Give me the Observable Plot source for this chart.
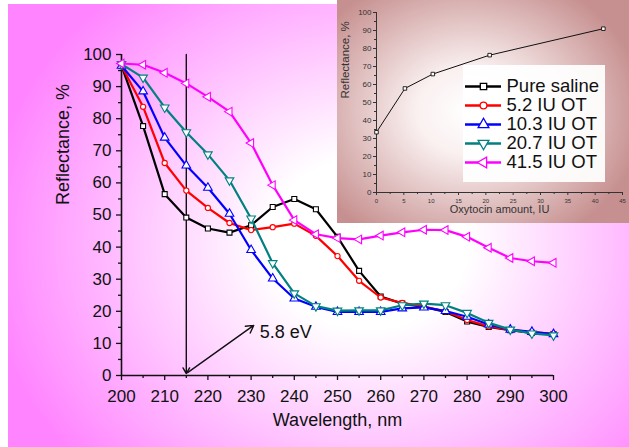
<!DOCTYPE html>
<html>
<head>
<meta charset="utf-8">
<script src="https://cdn.jsdelivr.net/npm/d3@7"></script>
<script src="https://cdn.jsdelivr.net/npm/@observablehq/plot@0.6"></script>
<style>
html,body{margin:0;padding:0;background:#fff;}
#wrap{position:relative;width:629px;height:447px;overflow:hidden;font-family:"Liberation Sans",Arial,sans-serif;}
#bg{position:absolute;left:8px;top:4px;right:0;bottom:0;
  background:radial-gradient(ellipse 62% 75% at 58% 54%, #ffffff 0%, #ffffff 26%, #ff84ff 100%);}
#main{position:absolute;left:0;top:0;}
#inset{position:absolute;left:337px;top:0;width:292px;height:223px;
  background:radial-gradient(ellipse 60% 65% at 45% 50%, #ffffff 0%, #faf0f0 30%, #c79090 100%);}
#legend{position:absolute;left:463px;top:65px;width:142px;height:117px;background:rgba(255,255,255,0.93);}
svg{display:block;}
</style>
</head>
<body>
<div id="wrap">
  <div id="bg"></div>
  <div id="main"></div>
  <div id="inset"></div>
  <div id="legend"></div>
</div>
<script>
// ---------- data ----------
const wavelengths = [200,205,210,215,220,225,230,235,240,245,250,255,260,265,270,275,280,285,290,295,300];
const pureSaline = [96.5,77.7,56.5,49.2,45.8,44.5,46.8,52.5,55.0,51.8,43.2,32.6,24.6,22.4,21.4,19.8,16.8,15.1,14.1,13.3,12.9];
const ot52  = [96.5,83.7,66.2,57.6,52.2,47.5,45.3,46.2,47.3,43.5,37.2,29.5,24.3,22.6,21.5,20.0,17.3,15.3,14.2,13.5,13.0];
const ot103 = [96.5,88.5,74.1,65.4,58.5,50.4,39.1,30.2,24.0,21.4,19.8,19.8,19.8,20.9,21.2,20.1,18.3,15.9,14.3,13.6,12.9];
const ot207 = [97.0,92.8,83.5,75.8,68.9,60.8,48.9,35.0,25.6,21.6,20.2,20.3,20.3,21.9,22.4,21.9,19.5,16.4,14.3,13.1,12.5];
const ot415 = [97.2,96.8,94.3,91.0,86.8,82.2,72.4,59.3,48.4,44.0,42.8,42.4,43.6,44.6,45.4,45.3,43.2,39.8,36.6,35.6,35.1];

const seriesNames  = ["Pure saline","5.2 IU OT","10.3 IU OT","20.7 IU OT","41.5 IU OT"];
const seriesValues = [pureSaline, ot52, ot103, ot207, ot415];
const seriesColors = ["#000000","#ff0000","#0000ff","#008080","#ff00ff"];

const xTicks = [200,210,220,230,240,250,260,270,280,290,300];
const xMinorTicks = [205,215,225,235,245,255,265,275,285,295];
const yTicks = [0,10,20,30,40,50,60,70,80,90,100];
const yMinorTicks = [5,15,25,35,45,55,65,75,85,95];

// annotation: 215 nm = 5.8 eV
const bandEdge = [{x1:215, y1:100, x2:215, y2:0.6}];
const bandArrow = [{x1:215.3, y1:0.9, x2:230.6, y2:15.6}];
const bandLabel = [{x:232, y:13.6, text:"5.8 eV"}];

// inset data
const otAmount = [0, 5.2, 10.3, 20.7, 41.5];
const insetReflectance = [33.5, 57.8, 65.8, 76.3, 91.0];
const insetXTicks = [0,5,10,15,20,25,30,35,40,45];
const insetXMinor = [2.5,7.5,12.5,17.5,22.5,27.5,32.5,37.5,42.5];
const insetYTicks = [0,10,20,30,40,50,60,70,80,90,100];
const insetYMinor = [5,15,25,35,45,55,65,75,85,95];

// ---------- symbols ----------
const sqrt3 = Math.sqrt(3);
const triangleDown = {draw(ctx, size){ const y = -Math.sqrt(size/(sqrt3*3)); ctx.moveTo(0,-y*2); ctx.lineTo(-sqrt3*y, y); ctx.lineTo(sqrt3*y, y); ctx.closePath(); }};
const triangleLeft = {draw(ctx, size){ const y = -Math.sqrt(size/(sqrt3*3)); ctx.moveTo(y*2,0); ctx.lineTo(-y,-sqrt3*y); ctx.lineTo(-y, sqrt3*y); ctx.closePath(); }};
const seriesSymbols = ["square","circle","triangle", triangleDown, triangleLeft];
const seriesR = [2.8, 2.6, 3.2, 3.2, 3.2];

const table = [];
seriesNames.forEach((s, k) => wavelengths.forEach((w, i) => table.push({series:s, wl:w, r:seriesValues[k][i]})));

const font = "Liberation Sans, Arial, sans-serif";

// ---------- main ----------
const seriesMarks = [];
seriesNames.forEach((s, k) => {
  const d = table.filter(t => t.series === s);
  seriesMarks.push(Plot.line(d, {x:"wl", y:"r", stroke:"series", strokeWidth:2.2}));
  seriesMarks.push(Plot.dot(d, {x:"wl", y:"r", stroke:"series", fill:"white", symbol:seriesSymbols[k], r:seriesR[k], strokeWidth:1.1}));
});

const main = Plot.plot({
  width:629, height:447,
  marginLeft:121, marginRight:76, marginTop:54, marginBottom:72,
  style:{background:"transparent", fontFamily:font, color:"#111", overflow:"visible"},
  x:{domain:[200,300]},
  y:{domain:[0,100]},
  color:{domain:seriesNames, range:seriesColors},
  marks:[
    Plot.axisX({ticks:xTicks, tickSize:5, tickPadding:9, label:null, fontSize:17, strokeWidth:1.3}),
    Plot.axisX({ticks:xMinorTicks, tickSize:3, tickFormat:() => "", label:null, strokeWidth:1.3}),
    Plot.axisY({ticks:yTicks, tickSize:5, tickPadding:5, label:null, fontSize:17, strokeWidth:1.3}),
    Plot.axisY({ticks:yMinorTicks, tickSize:3, tickFormat:() => "", label:null, strokeWidth:1.3}),
    Plot.ruleY([0], {stroke:"#111", strokeWidth:1.6}),
    Plot.ruleX([200], {stroke:"#111", strokeWidth:1.6}),
    Plot.arrow(bandEdge, {x1:"x1", y1:"y1", x2:"x2", y2:"y2", stroke:"#111", strokeWidth:1.4, headLength:7}),
    Plot.arrow(bandArrow, {x1:"x1", y1:"y1", x2:"x2", y2:"y2", stroke:"#111", strokeWidth:1.4, headLength:9}),
    Plot.text(bandLabel, {x:"x", y:"y", text:"text", textAnchor:"start", fontSize:18, fill:"#111"}),
    ...seriesMarks,
    Plot.text(["Wavelength, nm"], {frameAnchor:"bottom", dy:50, fontSize:18, fill:"#111"}),
    Plot.text(["Reflectance, %"], {frameAnchor:"left", dx:-58, dy:-10, rotate:-90, fontSize:18, fill:"#111"})
  ]
});
document.getElementById("main").append(main);

// ---------- inset ----------
const insetData = otAmount.map((a, i) => ({a, r:insetReflectance[i]}));
const inset = Plot.plot({
  width:292, height:223,
  marginLeft:39, marginRight:7, marginTop:12, marginBottom:31,
  style:{background:"transparent", fontFamily:font, color:"#333", overflow:"visible"},
  x:{domain:[0,45]},
  y:{domain:[0,100]},
  marks:[
    Plot.axisX({ticks:insetXTicks, tickSize:3, tickPadding:3, label:null, fontSize:6}),
    Plot.axisX({ticks:insetXMinor, tickSize:2, tickFormat:() => "", label:null}),
    Plot.axisY({ticks:insetYTicks, tickSize:3, tickPadding:2, label:null, fontSize:8}),
    Plot.axisY({ticks:insetYMinor, tickSize:2, tickFormat:() => "", label:null}),
    Plot.ruleY([0], {stroke:"#333"}),
    Plot.ruleX([0], {stroke:"#333"}),
    Plot.line(insetData, {x:"a", y:"r", stroke:"#111", strokeWidth:1}),
    Plot.dot(insetData, {x:"a", y:"r", symbol:"square", r:2, fill:"white", stroke:"#111", strokeWidth:0.9}),
    Plot.text(["Oxytocin amount, IU"], {frameAnchor:"bottom", dy:20, fontSize:11, fill:"#333"}),
    Plot.text(["Reflectance, %"], {frameAnchor:"left", dx:-31, dy:-4, rotate:-90, fontSize:11.5, fill:"#333"})
  ]
});
document.getElementById("inset").append(inset);

// ---------- legend ----------
const legendMarks = [
  Plot.ruleY(seriesNames, {y:d => d, x1:0, x2:1, stroke:d => d, strokeWidth:2.6})
];
seriesNames.forEach((s, k) => {
  legendMarks.push(Plot.dot([s], {x:0.5, y:d => d, stroke:d => d, fill:"white", symbol:seriesSymbols[k], r:seriesR[k]+0.8, strokeWidth:1.3}));
});
legendMarks.push(Plot.text(seriesNames, {x:1, y:d => d, dx:5, text:d => d, textAnchor:"start", fontSize:18.5, fill:"#111"}));
const legend = Plot.plot({
  width:142, height:117, margin:0,
  style:{background:"transparent", fontFamily:font, overflow:"visible"},
  x:{domain:[0,1], range:[2,38], axis:null},
  y:{type:"point", domain:seriesNames, range:[11.7,106.7], axis:null},
  color:{domain:seriesNames, range:seriesColors},
  marks:legendMarks
});
document.getElementById("legend").append(legend);
</script>
</body>
</html>
